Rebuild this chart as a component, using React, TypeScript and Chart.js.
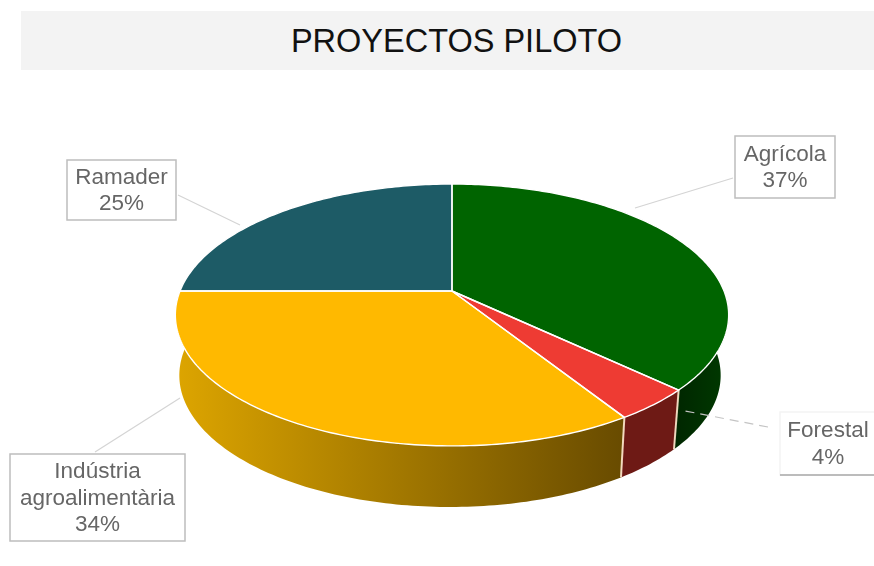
import React, { useEffect, useRef } from "react";
import { Chart, registerables } from "chart.js";

Chart.register(...registerables);

const title = "PROYECTOS PILOTO";
const categories = ["Agrícola", "Forestal", "Indústria agroalimentària", "Ramader"];
const values = [37, 4, 34, 25];
const topColors = ["#006400", "#EE3B33", "#FFB900", "#1D5B66"];
const sideFrom = ["#003A00", "#6E1A15", "#DDA500", "#123A40"];
const sideTo = ["#002600", "#6E1A15", "#684B00", "#123A40"];

// label boxes: x, y, w, h, connector start and end, line wrap
const boxes = [
  { x: 735, y: 136, w: 100, h: 62, from: [733, 178], to: [635, 208], lines: ["Agrícola"], faint: false },
  { x: 780, y: 412, w: 96, h: 63, from: [768, 427], to: [680, 410], lines: ["Forestal"], faint: true },
  { x: 10, y: 454, w: 175, h: 87, from: [95, 452], to: [180, 398], lines: ["Indústria", "agroalimentària"], faint: false },
  { x: 67, y: 160, w: 109, h: 60, from: [178, 195], to: [240, 225], lines: ["Ramader"], faint: false },
];

const topPlane = { dx: 0, dy: 0, sx: 1, sy: 0.4653, k: 0.183 };
const bottomPlane = { dx: -2, dy: 58, sx: 0.975, sy: 0.4647, k: 0.2 };

function project(el: any, angle: number, plane: any) {
  const u = Math.cos(angle);
  const v = Math.sin(angle);
  const d = 1 - plane.k * v;
  return {
    x: el.x + plane.dx + (el.outerRadius * plane.sx * u) / d,
    y: el.y + plane.dy + (el.outerRadius * plane.sy * v) / d,
  };
}

function arcPoints(el: any, a: number, b: number, plane: any) {
  const n = Math.max(2, Math.ceil(Math.abs(b - a) * 60));
  const pts = [];
  for (let i = 0; i <= n; i++) pts.push(project(el, a + ((b - a) * i) / n, plane));
  return pts;
}

const pie3d = {
  id: "pie3d",
  beforeDatasetDraw(chart: any, args: any) {
    const ctx = chart.ctx;
    const arcs = args.meta.data;
    ctx.save();
    ctx.lineJoin = "round";

    // side wall, front half only
    arcs.forEach((arc: any, i: number) => {
      const a = Math.max(arc.startAngle, 0);
      const b = Math.min(arc.endAngle, Math.PI);
      if (b <= a) return;
      const top = arcPoints(arc, a, b, topPlane);
      const bottom = arcPoints(arc, a, b, bottomPlane).reverse();
      const xs = top.concat(bottom).map((p) => p.x);
      const x0 = Math.min(...xs);
      const x1 = Math.max(...xs);
      const g = ctx.createLinearGradient(x0, 0, x1, 0);
      const leftToRight = i === 2;
      g.addColorStop(0, leftToRight ? sideFrom[i] : sideTo[i]);
      g.addColorStop(1, leftToRight ? sideTo[i] : sideFrom[i]);
      ctx.beginPath();
      top.concat(bottom).forEach((p, j) => (j ? ctx.lineTo(p.x, p.y) : ctx.moveTo(p.x, p.y)));
      ctx.closePath();
      ctx.fillStyle = g;
      ctx.fill();
    });

    // pale seams on the side wall
    arcs.forEach((arc: any) => {
      const e = arc.endAngle;
      if (e <= 0 || e >= Math.PI) return;
      const t = project(arc, e, topPlane);
      const b = project(arc, e, bottomPlane);
      ctx.beginPath();
      ctx.moveTo(t.x, t.y);
      ctx.lineTo(b.x, b.y);
      ctx.strokeStyle = "rgba(255,232,205,0.9)";
      ctx.lineWidth = 2;
      ctx.stroke();
    });

    // top surface
    arcs.forEach((arc: any) => {
      const pts = arcPoints(arc, arc.startAngle, arc.endAngle, topPlane);
      ctx.beginPath();
      ctx.moveTo(arc.x, arc.y);
      pts.forEach((p) => ctx.lineTo(p.x, p.y));
      ctx.closePath();
      ctx.fillStyle = arc.options.backgroundColor;
      ctx.fill();
    });
    arcs.forEach((arc: any) => {
      const pts = arcPoints(arc, arc.startAngle, arc.endAngle, topPlane);
      ctx.beginPath();
      ctx.moveTo(arc.x, arc.y);
      pts.forEach((p) => ctx.lineTo(p.x, p.y));
      ctx.closePath();
      ctx.strokeStyle = "#FFFFFF";
      ctx.lineWidth = 1.4;
      ctx.stroke();
    });
    ctx.restore();
    return false;
  },
  afterDraw(chart: any) {
    const ctx = chart.ctx;
    ctx.save();
    boxes.forEach((box, i) => {
      ctx.beginPath();
      ctx.moveTo(box.from[0], box.from[1]);
      ctx.lineTo(box.to[0], box.to[1]);
      ctx.strokeStyle = box.faint ? "#C4C4C4" : "#D4D4D4";
      ctx.lineWidth = 1.2;
      if (box.faint) ctx.setLineDash([9, 6]);
      ctx.stroke();
      ctx.setLineDash([]);

      ctx.lineWidth = 1.5;
      if (box.faint) {
        ctx.strokeStyle = "#F4F4F4";
        ctx.strokeRect(box.x, box.y, box.w, box.h);
        ctx.strokeStyle = "#A8A8A8";
        ctx.beginPath();
        ctx.moveTo(box.x, box.y + box.h);
        ctx.lineTo(box.x + box.w, box.y + box.h);
        ctx.stroke();
      } else {
        ctx.strokeStyle = "#BDBDBD";
        ctx.strokeRect(box.x, box.y, box.w, box.h);
      }

      const lines = [...box.lines, `${values[i]}%`];
      const lh = 26.5;
      ctx.font = '22.5px "Liberation Sans", Arial, sans-serif';
      ctx.fillStyle = "#666666";
      ctx.textAlign = "center";
      ctx.textBaseline = "middle";
      const mid = box.y + box.h / 2;
      lines.forEach((t, j) => {
        ctx.fillText(t, box.x + box.w / 2, mid + (j - (lines.length - 1) / 2) * lh + 1);
      });
    });
    ctx.restore();
  },
};

export default function App() {
  const ref = useRef<HTMLCanvasElement>(null);
  useEffect(() => {
    const chart = new Chart(ref.current as HTMLCanvasElement, {
      type: "pie",
      data: {
        labels: categories,
        datasets: [{ data: values, backgroundColor: topColors, borderColor: "#FFFFFF", borderWidth: 0 }],
      },
      options: {
        animation: false,
        responsive: false,
        layout: { padding: { left: 180, right: 150, top: 19, bottom: 3 } },
        plugins: { legend: { display: false }, tooltip: { enabled: false }, title: { display: false } },
      },
      plugins: [pie3d],
    } as any);
    return () => chart.destroy();
  }, []);

  return (
    <div style={{ position: "absolute", left: 0, top: 0, width: 874, height: 566, background: "#FFFFFF", overflow: "hidden" }}>
      <div
        style={{
          position: "absolute",
          left: 21,
          top: 11,
          width: 853,
          height: 59,
          background: "#F3F3F3",
          color: "#111111",
          font: '32.5px "Liberation Sans", Arial, sans-serif',
          lineHeight: "61px",
          textAlign: "center",
          paddingLeft: 18,
          boxSizing: "border-box",
        }}
      >
        {title}
      </div>
      <canvas ref={ref} width={874} height={566} style={{ position: "absolute", left: 0, top: 0, display: "block" }} />
    </div>
  );
}
